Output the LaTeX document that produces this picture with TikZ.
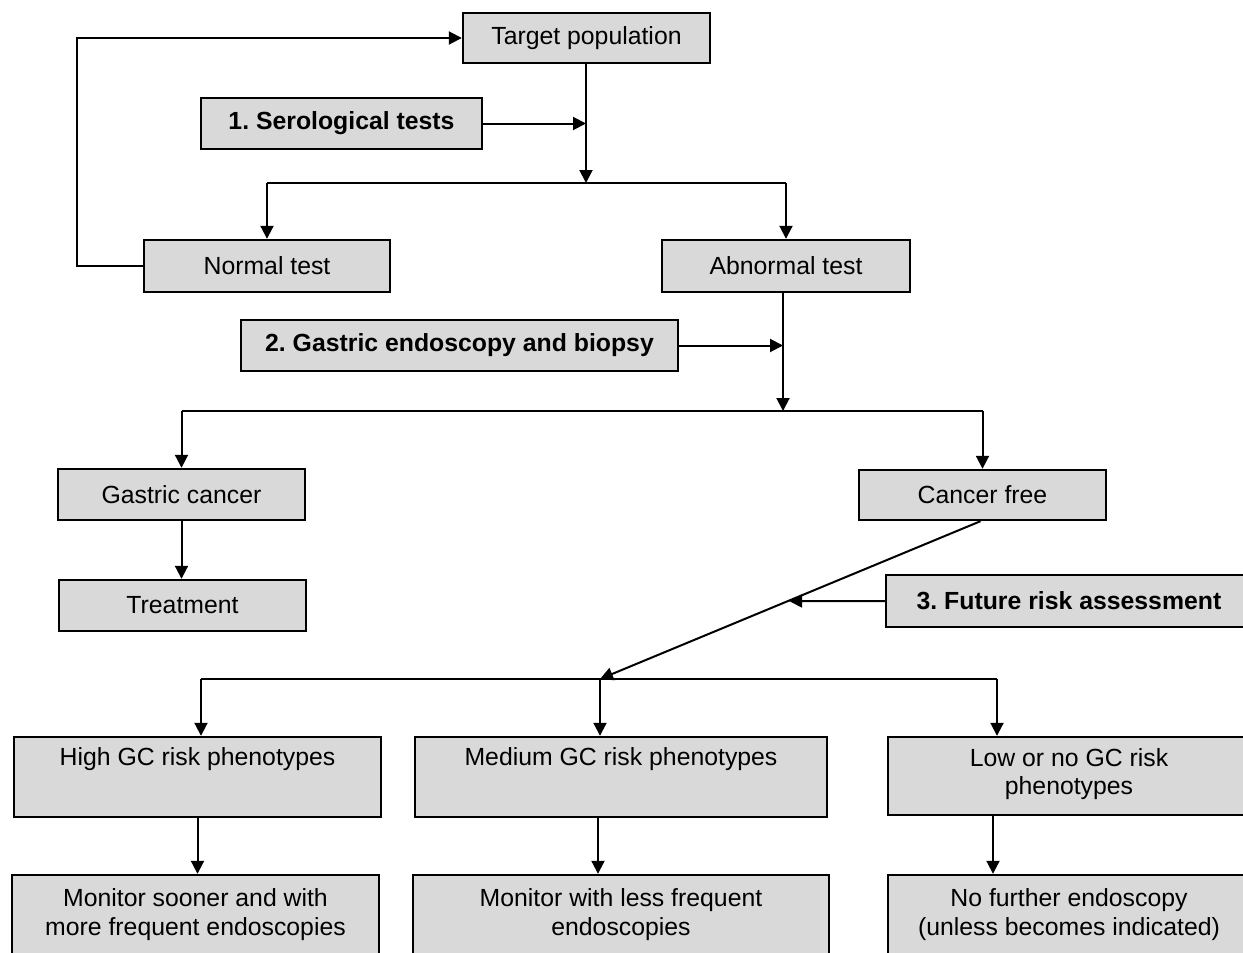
\documentclass[tikz,border=0pt]{standalone}
\usepackage{fontspec}
\setmainfont{Liberation Sans}
\usetikzlibrary{arrows.meta,calc}
\definecolor{boxgray}{RGB}{217,217,217}
\frenchspacing
\begin{document}
\begin{tikzpicture}[x=1pt,y=-1pt,
  font=\fontsize{24.8}{28.5}\selectfont,
  box/.style={draw=black, fill=boxgray, line width=2.4pt, inner sep=0pt, align=center},
  txt/.style={inner sep=0pt, align=center},
  conn/.style={line width=2pt},
  arr/.style={line width=2pt, -{Triangle[length=13pt,width=13pt]}}]
\clip (0,0) rectangle (1243,953);
\fill[white] (0,0) rectangle (1243,953);
% boxes
\node[box, minimum width=247, minimum height=50] (tp) at (586.5,38) {\raisebox{-1.5pt}{Target population}};
\node[box, minimum width=281, minimum height=51] (ser) at (341.5,123.5) {\bfseries\raisebox{-1.5pt}{1. Serological tests}};
\node[box, minimum width=246, minimum height=52] (nt) at (267,266) {\raisebox{-1.5pt}{Normal test}};
\node[box, minimum width=248, minimum height=52] (at) at (786,266) {\raisebox{-1.5pt}{Abnormal test}};
\node[box, minimum width=437, minimum height=51] (ge) at (459.5,345.5) {\bfseries\raisebox{-1.5pt}{2. Gastric endoscopy and biopsy}};
\node[box, minimum width=247, minimum height=51] (gc) at (181.5,494.5) {\raisebox{-1.5pt}{Gastric cancer}};
\node[box, minimum width=247, minimum height=51] (tr) at (182.5,605.5) {\raisebox{-1.5pt}{Treatment}};
\node[box, minimum width=247, minimum height=50] (cf) at (982.5,495) {\raisebox{-1.5pt}{Cancer free}};
\node[box, minimum width=366, minimum height=52] (fr) at (1069,601) {\bfseries\raisebox{-1.5pt}{3. Future risk assessment}};
\node[box, minimum width=367, minimum height=80] (hi) at (197.5,777) {};
\node[txt] (hit) at (197.5,759.5) {High GC risk phenotypes};
\node[box, minimum width=412, minimum height=80] (me) at (621,777) {};
\node[txt] (met) at (621,759.5) {Medium GC risk phenotypes};
\node[box, minimum width=362, minimum height=78] (lo) at (1069,776) {};
\node[txt] (lot) at (1069,774) {Low or no GC risk\\phenotypes};
\node[box, minimum width=367, minimum height=84] (m1) at (195.5,917) {};
\node[txt] (m1t) at (195.5,914.5) {Monitor sooner and with\\more frequent endoscopies};
\node[box, minimum width=416, minimum height=84] (m2) at (621,917) {};
\node[txt] (m2t) at (621,914.5) {Monitor with less frequent\\endoscopies};
\node[box, minimum width=362, minimum height=84] (m3) at (1069,917) {};
\node[txt] (m3t) at (1069,914.5) {No further endoscopy\\(unless becomes indicated)};
% junction coordinates
\coordinate (j1) at (586,183);
\coordinate (j2) at (783,411);
\coordinate (j3) at (600,679);
\coordinate (b1) at (201,679);
\coordinate (b3) at (997,679);
\coordinate (lp) at (77,266);
% stage 1
\draw[arr] (tp.south -| j1) -- (j1);
\draw[arr] (ser.east) -- (ser.east -| j1);
\draw[conn] (nt.north |- j1) -- (at.north |- j1);
\draw[arr] (nt.north |- j1) -- (nt.north);
\draw[arr] (at.north |- j1) -- (at.north);
\draw[arr] (nt.west) -- (lp) |- (tp.west);
% stage 2
\draw[arr] (at.south -| j2) -- (j2);
\draw[arr] (ge.east) -- (ge.east -| j2);
\draw[conn] (gc.north |- j2) -- (cf.north |- j2);
\draw[arr] (gc.north |- j2) -- (gc.north);
\draw[arr] (cf.north |- j2) -- (cf.north);
\draw[arr] (gc.south) -- (gc.south |- tr.north);
% stage 3
\draw[arr] ($(cf.south)+(-2,0)$) -- (j3);
\coordinate (fx) at (700,601);
\coordinate (dx) at (intersection of cf.south--j3 and fr.west--fx);
\draw[arr] (fr.west) -- (dx);
\draw[conn] (b1) -- (b3);
\draw[arr] (b1) -- (b1 |- hi.north);
\draw[arr] (j3) -- (j3 |- me.north);
\draw[arr] (b3) -- (b3 |- lo.north);
\draw[arr] (hi.south) -- (hi.south |- m1.north);
\draw[arr] ($(me.south)+(-23,0)$) -- ($(me.south |- m2.north)+(-23,0)$);
\draw[arr] ($(lo.south)+(-76,0)$) -- ($(lo.south |- m3.north)+(-76,0)$);
\end{tikzpicture}
\end{document}
